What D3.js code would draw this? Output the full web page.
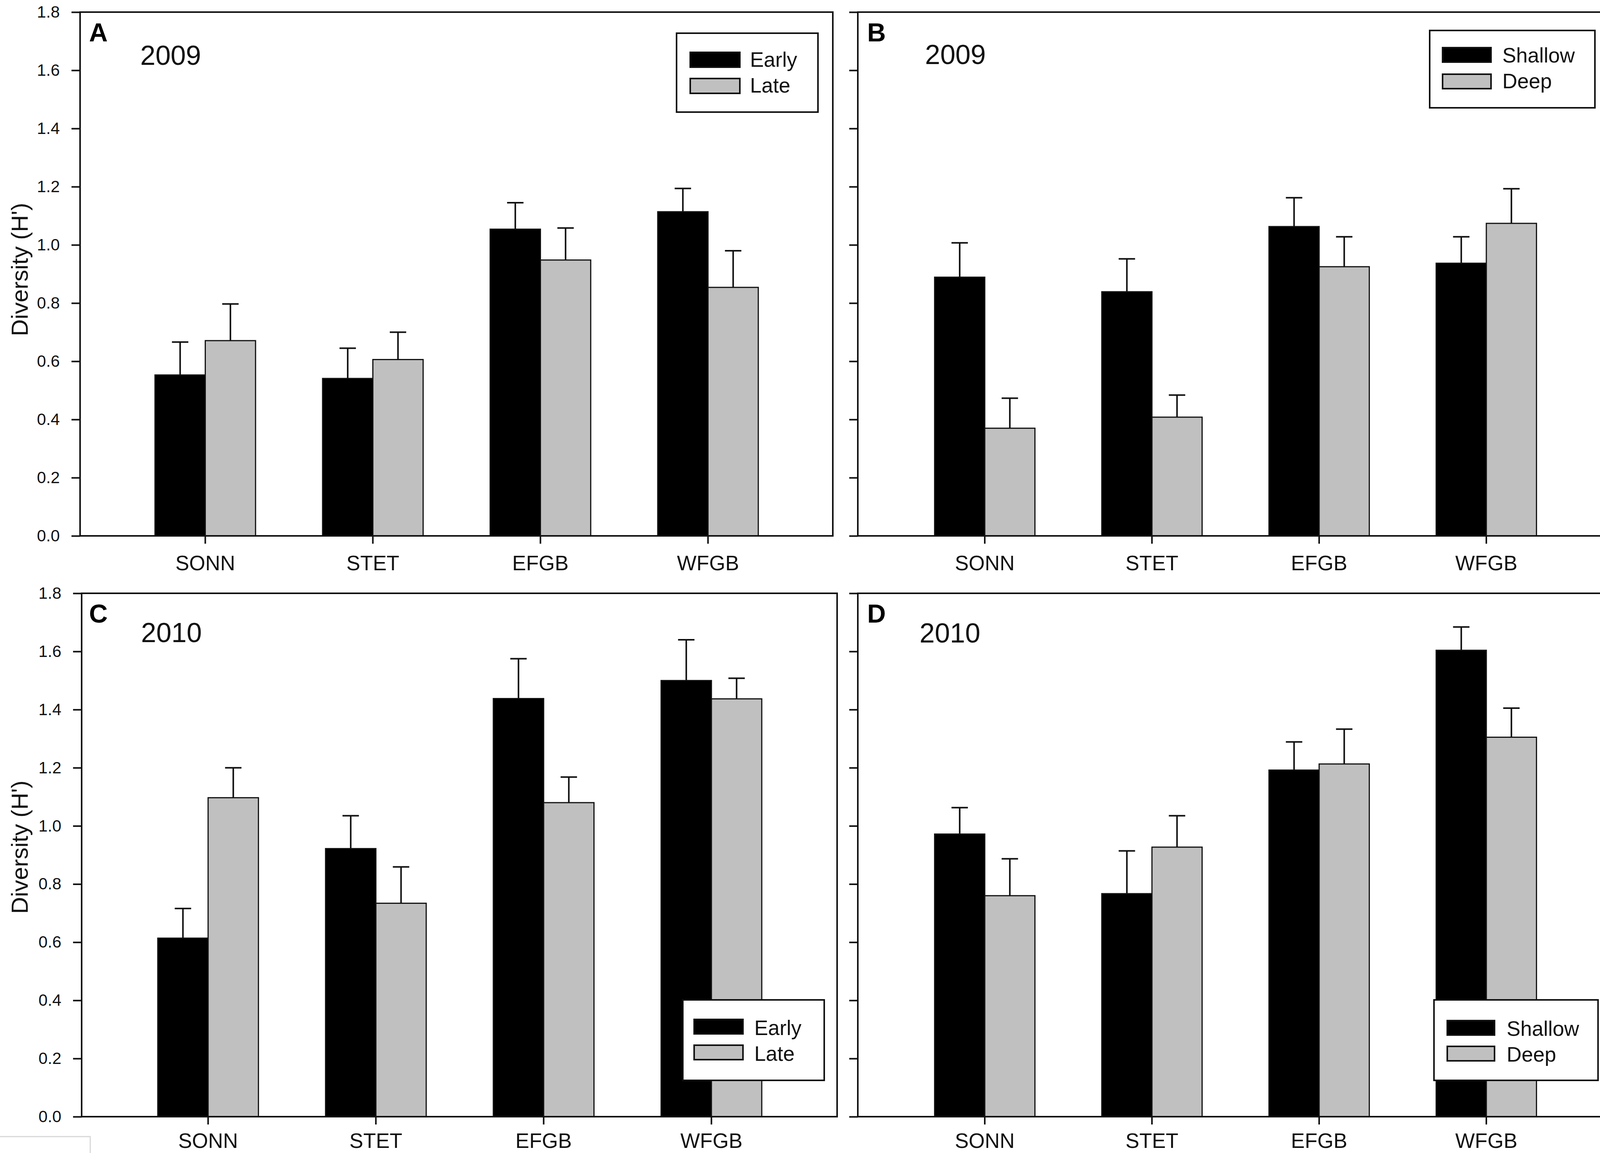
<!DOCTYPE html>
<html>
<head>
<meta charset="utf-8">
<script src="https://cdn.jsdelivr.net/npm/d3@7"></script>
<style>
  html, body { margin: 0; padding: 0; background: #fff; }
  svg { display: block; font-family: "Liberation Sans", Arial, sans-serif; }
</style>
</head>
<body>
<svg id="chart" width="4162" height="2952"></svg>
<script>
// ---------------- DATA ----------------
const categories = ["SONN", "STET", "EFGB", "WFGB"];
const yTicks = [0, 0.2, 0.4, 0.6, 0.8, 1.0, 1.2, 1.4, 1.6, 1.8];

// Panel A (2009, Early vs Late)
const a2009Early   = [0.553, 0.541, 1.054, 1.114];
const a2009EarlySE = [0.113, 0.104, 0.091, 0.080];
const a2009Late    = [0.671, 0.606, 0.948, 0.854];
const a2009LateSE  = [0.126, 0.094, 0.110, 0.126];

// Panel B (2009, Shallow vs Deep)
const b2009Shallow   = [0.889, 0.839, 1.063, 0.937];
const b2009ShallowSE = [0.118, 0.113, 0.099, 0.091];
const b2009Deep      = [0.370, 0.408, 0.925, 1.074];
const b2009DeepSE    = [0.103, 0.076, 0.103, 0.119];

// Panel C (2010, Early vs Late)
const c2010Early   = [0.614, 0.922, 1.438, 1.500];
const c2010EarlySE = [0.102, 0.113, 0.137, 0.140];
const c2010Late    = [1.097, 0.734, 1.080, 1.437];
const c2010LateSE  = [0.103, 0.125, 0.088, 0.071];

// Panel D (2010, Shallow vs Deep)
const d2010Shallow   = [0.972, 0.767, 1.192, 1.604];
const d2010ShallowSE = [0.091, 0.147, 0.097, 0.080];
const d2010Deep      = [0.760, 0.927, 1.213, 1.305];
const d2010DeepSE    = [0.127, 0.108, 0.120, 0.100];

const seriesNamesTime  = ["Early", "Late"];
const seriesNamesDepth = ["Shallow", "Deep"];
const yTitle = "Diversity (H')";

// ---------------- LAYOUT ----------------
const fills = ["#000000", "#c0c0c0"];
const svg = d3.select("#chart");

const panels = [
  { letter: "A", year: "2009", names: seriesNamesTime,
    vals: [a2009Early, a2009Late], se: [a2009EarlySE, a2009LateSE],
    left: 205, right: 2132, top: 31, bottom: 1372, bandR: [311, 2027], yLabels: true, xPad: 30,
    letterPos: [228, 106], yearPos: [359, 166],
    legend: { x: 1732, y: 85, w: 362, h: 202, sx: 1767, sw: 127, sy: [134, 201], sh: 38, tx: 1920, ty: [171, 237] },
    titleY: 690 },
  { letter: "B", year: "2009", names: seriesNamesDepth,
    vals: [b2009Shallow, b2009Deep], se: [b2009ShallowSE, b2009DeepSE],
    left: 2196, right: 4125, top: 31, bottom: 1372, bandR: [2307, 4019], yLabels: false, xPad: 30,
    letterPos: [2220, 106], yearPos: [2368, 164],
    legend: { x: 3660, y: 78, w: 423, h: 198, sx: 3693, sw: 124, sy: [122, 190], sh: 37, tx: 3846, ty: [160, 226] } },
  { letter: "C", year: "2010", names: seriesNamesTime,
    vals: [c2010Early, c2010Late], se: [c2010EarlySE, c2010LateSE],
    left: 209, right: 2143, top: 1519, bottom: 2859, bandR: [318, 2036], yLabels: true, xPad: 22,
    letterPos: [228, 1594], yearPos: [361, 1644],
    legend: { x: 1748, y: 2560, w: 362, h: 206, sx: 1777, sw: 125, sy: [2610, 2676], sh: 37, tx: 1931, ty: [2650, 2716] },
    titleY: 2169 },
  { letter: "D", year: "2010", names: seriesNamesDepth,
    vals: [d2010Shallow, d2010Deep], se: [d2010ShallowSE, d2010DeepSE],
    left: 2196, right: 4129, top: 1519, bottom: 2859, bandR: [2307, 4019], yLabels: false, xPad: 22,
    letterPos: [2220, 1594], yearPos: [2354, 1645],
    legend: { x: 3671, y: 2560, w: 420, h: 206, sx: 3705, sw: 121, sy: [2613, 2679], sh: 37, tx: 3857, ty: [2652, 2718] } }
];

panels.forEach(p => {
  const g = svg.append("g");
  const y = d3.scaleLinear().domain([0, 1.8]).range([p.bottom, p.top]);
  const x = d3.scaleBand().domain(categories).range(p.bandR).paddingInner(0.4).paddingOuter(0.2);
  const xs = d3.scaleBand().domain([0, 1]).range([0, x.bandwidth()]);

  // bars
  p.vals.forEach((vals, si) => {
    const data = categories.map((c, i) => ({ c, v: vals[i], e: p.se[si][i] }));
    // error bars (upper only)
    const eg = g.append("g").attr("stroke", "#111").attr("stroke-width", 4);
    data.forEach(d => {
      const cx = x(d.c) + xs(si) + xs.bandwidth() / 2;
      eg.append("line").attr("x1", cx).attr("x2", cx).attr("y1", y(d.v)).attr("y2", y(d.v + d.e));
      eg.append("line").attr("x1", cx - 21).attr("x2", cx + 21).attr("y1", y(d.v + d.e)).attr("y2", y(d.v + d.e));
    });
    g.append("g").selectAll("rect").data(data).join("rect")
      .attr("x", d => x(d.c) + xs(si))
      .attr("width", xs.bandwidth())
      .attr("y", d => y(d.v))
      .attr("height", d => y(0) - y(d.v))
      .attr("fill", fills[si])
      .attr("stroke", "#111")
      .attr("stroke-width", 3);
  });

  // frame
  g.append("rect")
    .attr("x", p.left).attr("y", p.top)
    .attr("width", p.right - p.left).attr("height", p.bottom - p.top)
    .attr("fill", "none").attr("stroke", "#111").attr("stroke-width", 4);

  // y axis
  const yAxis = d3.axisLeft(y).tickValues(yTicks).tickSize(22).tickPadding(30)
    .tickFormat(p.yLabels ? d3.format(".1f") : () => "");
  const ya = g.append("g").attr("transform", `translate(${p.left},0)`).call(yAxis);
  ya.select(".domain").remove();
  ya.selectAll(".tick line").attr("stroke", "#111").attr("stroke-width", 4);
  ya.selectAll(".tick text").attr("font-size", 42).attr("fill", "#111")
    .attr("font-family", "'Liberation Sans', Arial, sans-serif");

  // x axis
  const xAxis = d3.axisBottom(x).tickSize(20).tickPadding(p.xPad);
  const xa = g.append("g").attr("transform", `translate(0,${p.bottom})`).call(xAxis);
  xa.select(".domain").remove();
  xa.selectAll(".tick line").attr("stroke", "#111").attr("stroke-width", 4);
  xa.selectAll(".tick text").attr("font-size", 53).attr("fill", "#111")
    .attr("font-family", "'Liberation Sans', Arial, sans-serif");

  // panel letter & year
  g.append("text").attr("x", p.letterPos[0]).attr("y", p.letterPos[1])
    .attr("font-size", 66).attr("font-weight", "bold").attr("fill", "#000").text(p.letter);
  g.append("text").attr("x", p.yearPos[0]).attr("y", p.yearPos[1])
    .attr("font-size", 70).attr("fill", "#111").text(p.year);

  // legend
  const L = p.legend;
  const lg = g.append("g");
  lg.append("rect").attr("x", L.x).attr("y", L.y).attr("width", L.w).attr("height", L.h)
    .attr("fill", "#fff").attr("stroke", "#111").attr("stroke-width", 4);
  p.names.forEach((n, i) => {
    lg.append("rect").attr("x", L.sx).attr("y", L.sy[i]).attr("width", L.sw).attr("height", L.sh)
      .attr("fill", fills[i]).attr("stroke", "#111").attr("stroke-width", 4);
    lg.append("text").attr("x", L.tx).attr("y", L.ty[i]).attr("font-size", 53).attr("fill", "#111").text(n);
  });

  // y title
  if (p.titleY) {
    g.append("text")
      .attr("transform", `translate(71,${p.titleY}) rotate(-90)`)
      .attr("text-anchor", "middle").attr("font-size", 60).attr("fill", "#111")
      .text(yTitle);
  }
});

// small light artifact box at bottom-left
svg.append("rect").attr("x", -4).attr("y", 2910).attr("width", 235).attr("height", 60)
  .attr("fill", "none").attr("stroke", "#d8d8d8").attr("stroke-width", 3);
</script>
</body>
</html>
